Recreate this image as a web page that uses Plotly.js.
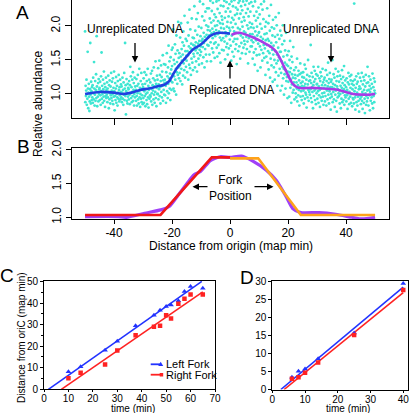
<!DOCTYPE html>
<html><head><meta charset="utf-8">
<script src="https://cdn.plot.ly/plotly-3.0.1.min.js"></script>
<style>html,body{margin:0;padding:0;background:#fff;}#chart{width:410px;height:413px;}</style>
</head><body><div id="chart"></div>
<script>
// ---------- Panel A: probe data (relative abundance x100), probes every 0.1 map min from -50 ----------
const probeStart = -50;
const probeStep = 0.1;
const abundanceX100 = [
192,88,112,97,105,121,84,100,93,162,108,79,102,115,96,75,89,107,175,99,86,118,104,91,110,
95,113,87,124,101,92,147,108,83,99,119,90,106,129,94,185,111,82,103,96,116,89,122,100,107,
109,91,118,98,84,126,104,161,93,112,100,87,121,107,96,133,90,115,102,81,110,97,124,94,106,
99,117,88,108,95,127,103,79,113,92,120,101,86,111,98,131,94,105,118,90,100,123,85,109,96,
133,104,76,97,116,91,108,125,87,100,112,95,83,119,102,93,128,106,89,110,98,121,92,103,114,
95,111,88,102,124,93,106,84,117,99,131,91,108,175,97,113,70,104,122,90,101,86,115,96,109,
107,92,119,99,85,113,140,101,126,94,110,88,103,121,97,132,90,106,116,83,100,124,95,111,104,
106,90,122,97,83,112,101,128,92,115,86,104,137,95,109,81,100,119,93,131,88,107,98,114,85,
110,94,123,87,104,132,97,115,82,107,100,128,91,119,85,102,137,95,112,80,106,121,93,109,98,
117,96,130,89,108,101,134,84,113,105,123,92,139,99,111,87,120,103,148,94,115,82,109,127,100,
121,100,138,92,114,107,149,97,128,110,86,119,142,103,125,95,133,112,157,90,120,106,144,99,116,
121,98,143,112,87,132,117,160,104,126,94,139,115,171,101,123,148,108,130,91,154,119,136,106,165,
141,117,168,129,195,108,150,126,104,144,173,121,159,137,99,186,132,147,115,164,128,206,139,153,123,
160,131,142,183,119,155,204,137,166,149,114,176,158,127,192,145,171,135,215,152,124,163,181,140,156,
149,178,132,163,205,157,121,186,170,143,224,161,138,195,167,128,174,152,211,165,146,183,135,172,159,
182,155,229,171,139,193,164,176,148,210,167,133,187,160,219,174,152,199,143,178,165,236,157,185,170,
162,197,178,145,214,181,169,232,154,190,175,208,139,184,166,221,179,158,201,187,148,226,172,194,183,
199,171,226,186,158,211,193,237,176,148,205,189,222,167,196,182,234,161,208,191,174,217,153,200,185,
176,213,194,236,168,201,155,225,188,207,172,238,192,160,219,183,204,146,230,197,179,214,165,209,190,
203,182,229,164,196,237,177,212,151,191,221,185,169,235,199,174,206,158,226,188,214,167,197,232,180,
193,221,171,205,149,236,186,212,162,198,229,177,209,155,192,238,181,216,166,203,227,173,190,144,218,
181,224,197,163,234,189,211,170,237,195,152,218,186,229,175,206,160,223,199,183,236,168,213,192,178,
208,173,231,190,159,219,184,237,166,201,177,225,145,196,214,182,233,162,205,188,221,170,198,235,179,
170,203,188,152,229,176,197,161,215,184,143,236,192,166,208,179,221,157,199,186,134,212,174,227,190,
191,158,217,170,203,139,184,232,165,196,177,149,224,181,160,210,172,236,153,188,167,199,128,179,206,
155,189,172,226,146,181,163,204,136,178,215,160,193,124,170,152,231,175,142,198,165,186,118,209,158,
171,139,196,150,121,184,163,213,132,176,145,201,158,112,187,149,168,127,219,154,181,137,162,193,105,
162,131,186,148,112,173,140,201,123,155,137,99,178,129,146,164,108,135,190,119,143,125,157,94,133,
141,118,163,127,96,150,132,178,109,138,121,87,155,114,129,147,102,124,169,106,117,135,92,112,128,
123,101,139,95,117,108,152,89,127,113,98,134,106,120,83,129,110,145,96,116,104,131,91,112,125,
118,97,132,105,86,124,111,143,93,115,102,137,99,121,80,109,128,95,114,150,106,90,119,103,126,
99,120,107,172,94,116,131,88,110,103,125,79,113,140,97,118,105,134,91,122,108,85,129,101,114,
115,93,127,104,140,87,111,98,123,106,81,119,132,95,108,126,90,113,101,137,96,117,84,109,121,
102,124,89,113,97,135,108,83,119,105,128,92,111,146,99,116,86,122,104,131,94,110,77,118,100,
121,96,110,150,88,115,103,129,92,108,124,81,113,99,137,105,90,119,74,111,126,95,107,133,101,
97,118,105,86,127,100,112,79,122,93,109,135,88,116,102,125,91,107,141,84,113,98,120,95,104,
110,89,123,98,106,78,117,101,131,93,114,85,103,126,96,109,120,87,128,100,115,82,107,94,119,
92,113,86,233,104,121,95,77,109,99,126,88,115,102,83,118,96,130,90,107,74,111,98,124,93,
108,85,119,96,131,90,103,78,114,99,125,87,106,120,93,72,111,101,128,84,97,116,89,105,140,
94,117,83,106,126,98,112,76,103,121,90,108,193,95,115,86,130,100,79,110,97,123,88,105,118,
101
];

// smoothed profile, left (blue) and right (magenta) halves
const leftSmoothX = [-50,-45,-40,-37,-34,-31,-28,-25.3,-22.5,-21,-19.5,-18,-16,-14,-12.6,-10.3,-8.5,-7,-5,-3.4,-1.5,0];
const leftSmoothY = [1.00,1.03,1.02,1.00,1.02,1.06,1.08,1.11,1.14,1.19,1.30,1.40,1.50,1.60,1.66,1.72,1.79,1.85,1.89,1.90,1.895,1.89];
const rightSmoothX = [0.5,2,3.4,5,8,10.5,12.6,14.5,16.1,17.5,19.5,21,21.8,23,24.7,28,31,34,36.8,39,42.5,46,48,50];
const rightSmoothY = [1.87,1.895,1.90,1.88,1.83,1.78,1.73,1.68,1.61,1.50,1.32,1.19,1.14,1.10,1.085,1.09,1.085,1.075,1.065,1.04,1.00,0.99,0.99,1.00];

// ---------- Panel B ----------
const profileX = [-50,-38.6,-35.8,-29.5,-23.9,-21,-18.2,-14,-12.5,-10.2,-6.8,-3.4,0,4,8,12.5,15.9,19.3,21.6,24.4,30.7,36.4,42,45.5,50];
const profileY = [1.01,1.01,1.00,1.06,1.11,1.16,1.31,1.55,1.63,1.68,1.84,1.90,1.89,1.91,1.83,1.70,1.55,1.31,1.13,1.07,1.07,1.045,1.00,0.975,1.00];
const leftForkModelX = [-50,-24,-6.3,0];
const leftForkModelY = [1.035,1.035,1.89,1.89];
const rightForkModelX = [0,9.7,24.4,50];
const rightForkModelY = [1.876,1.876,1.035,1.035];

// ---------- Panel C ----------
const timeC = [10,15,25,30,37.5,45,47.5,50,52,55,57.5,60,65];
const leftForkC = [8.1,10.4,18.1,22.3,29.5,34.3,36.6,38.4,39.1,41,45.3,47.6,46.8];
const rightForkC = [5.1,7.7,11.5,18,25,29,29.5,34.3,32.8,39.7,42,44,44];
const leftFitC_t = [1.8,64.6];
const leftFitC_d = [0,50];
const rightFitC_t = [7.1,65];
const rightFitC_d = [0,45.2];

// ---------- Panel D ----------
const timeD = [6,8,10,14,25,40];
const leftForkD = [3.4,5.05,5.7,8.5,15.6,29.3];
const rightForkD = [3.0,3.4,4.6,7.5,15.1,27.5];
const leftFitD_t = [2.6,40];
const leftFitD_d = [0,28.3];
const rightFitD_t = [3.6,40];
const rightFitD_d = [0,26.8];

// ---------- build ----------
const W = 410, H = 413;
const px = v => v / W;
const py = v => 1 - v / H;
const FONT = 'Liberation Sans, Arial, Helvetica, sans-serif';
const BLUE = '#2233ff', RED = '#ff2222';

const probeX = abundanceX100.map((v, i) => probeStart + i * probeStep);
const probeY = abundanceX100.map(v => v / 100);

const traces = [
  {x: probeX, y: probeY, xaxis: 'x', yaxis: 'y', mode: 'markers', type: 'scatter',
   marker: {size: 2.8, color: '#3ee6d2', line: {width: 0}}},
  {x: leftSmoothX, y: leftSmoothY, xaxis: 'x', yaxis: 'y', mode: 'lines', type: 'scatter',
   line: {color: '#2040e0', width: 2.6, shape: 'spline', smoothing: 0.6}},
  {x: rightSmoothX, y: rightSmoothY, xaxis: 'x', yaxis: 'y', mode: 'lines', type: 'scatter',
   line: {color: '#a83ae6', width: 2.6, shape: 'spline', smoothing: 0.6}},

  {x: profileX, y: profileY, xaxis: 'x2', yaxis: 'y2', mode: 'lines', type: 'scatter',
   line: {color: '#a040f8', width: 3.2, shape: 'spline', smoothing: 0.6}},
  {x: leftForkModelX, y: leftForkModelY, xaxis: 'x2', yaxis: 'y2', mode: 'lines', type: 'scatter',
   line: {color: '#f01818', width: 2.6}},
  {x: rightForkModelX, y: rightForkModelY, xaxis: 'x2', yaxis: 'y2', mode: 'lines', type: 'scatter',
   line: {color: '#ffa31a', width: 2.6}},

  {x: leftFitC_t, y: leftFitC_d, xaxis: 'x3', yaxis: 'y3', mode: 'lines', type: 'scatter',
   line: {color: BLUE, width: 1.6}},
  {x: rightFitC_t, y: rightFitC_d, xaxis: 'x3', yaxis: 'y3', mode: 'lines', type: 'scatter',
   line: {color: RED, width: 1.6}},
  {x: timeC, y: leftForkC, xaxis: 'x3', yaxis: 'y3', mode: 'markers', type: 'scatter',
   marker: {symbol: 'triangle-up', size: 5, color: BLUE, line: {width: 0}}},
  {x: timeC, y: rightForkC, xaxis: 'x3', yaxis: 'y3', mode: 'markers', type: 'scatter',
   marker: {symbol: 'square', size: 4.5, color: RED, line: {width: 0}}},

  {x: leftFitD_t, y: leftFitD_d, xaxis: 'x4', yaxis: 'y4', mode: 'lines', type: 'scatter',
   line: {color: BLUE, width: 1.6}},
  {x: rightFitD_t, y: rightFitD_d, xaxis: 'x4', yaxis: 'y4', mode: 'lines', type: 'scatter',
   line: {color: RED, width: 1.6}},
  {x: timeD, y: leftForkD, xaxis: 'x4', yaxis: 'y4', mode: 'markers', type: 'scatter',
   marker: {symbol: 'triangle-up', size: 5, color: BLUE, line: {width: 0}}},
  {x: timeD, y: rightForkD, xaxis: 'x4', yaxis: 'y4', mode: 'markers', type: 'scatter',
   marker: {symbol: 'square', size: 4.5, color: RED, line: {width: 0}}}
];

const baseAxis = {showgrid: false, zeroline: false, showline: true, linecolor: '#000', linewidth: 1,
  ticks: 'outside', tickcolor: '#000', tickwidth: 1, fixedrange: true};
const bigTick = {family: FONT, size: 12, color: '#000'};
const smallTick = {family: FONT, size: 10, color: '#000'};
const mapTicks = [-40, -20, 0, 20, 40];
const mapTickText = ['-40', '-20', '0', '20', '40'];
const abTicks = [1, 1.5, 2];
const abTickText = ['1.0', '1.5', '2.0'];

const layout = {
  width: W, height: H, margin: {l: 0, r: 0, t: 0, b: 0, pad: 0},
  paper_bgcolor: '#fff', plot_bgcolor: '#fff', showlegend: false,
  font: {family: FONT, color: '#000'},
  xaxis: Object.assign({}, baseAxis, {domain: [px(72), px(389)], anchor: 'y', range: [-54.5, 54.8],
    tickvals: mapTicks, showticklabels: false, ticklen: 6, mirror: false}),
  yaxis: Object.assign({}, baseAxis, {domain: [py(118), 1], anchor: 'x', range: [0.647, 2.382],
    tickvals: abTicks, ticktext: abTickText, tickangle: -90, ticklen: 6, tickfont: bigTick, mirror: true}),
  xaxis2: Object.assign({}, baseAxis, {domain: [px(72), px(389)], anchor: 'y2', range: [-54.5, 54.8],
    tickvals: mapTicks, ticktext: mapTickText, ticklen: 4, ticklabelstandoff: -2, tickfont: bigTick, mirror: true}),
  yaxis2: Object.assign({}, baseAxis, {domain: [py(219.3), py(147.7)], anchor: 'x2', range: [0.97, 2.034],
    tickvals: abTicks, ticktext: abTickText, tickangle: -90, ticklen: 5, tickfont: bigTick, mirror: true}),
  xaxis3: Object.assign({}, baseAxis, {domain: [px(44), px(215)], anchor: 'y3', range: [0, 70],
    dtick: 10, tick0: 0, ticklen: 2, ticklabelstandoff: -2, tickfont: smallTick, mirror: true}),
  yaxis3: Object.assign({}, baseAxis, {domain: [py(389.3), py(281)], anchor: 'x3', range: [0, 50.2],
    dtick: 10, tick0: 0, ticklen: 3, tickfont: smallTick, mirror: true,
    minor: {dtick: 5, ticks: 'outside', ticklen: 2, tickcolor: '#000'}}),
  xaxis4: Object.assign({}, baseAxis, {domain: [px(272.3), px(407.5)], anchor: 'y4', range: [0, 41.3],
    dtick: 10, tick0: 0, ticklen: 2, ticklabelstandoff: -2, tickfont: smallTick, mirror: true}),
  yaxis4: Object.assign({}, baseAxis, {domain: [py(389.5), py(280.7)], anchor: 'x4', range: [0, 30.1],
    dtick: 5, tick0: 0, ticklen: 3, tickfont: smallTick, mirror: true}),
  shapes: [
    {type: 'line', xref: 'paper', yref: 'paper', x0: px(150.7), x1: px(160.7), y0: py(364.3), y1: py(364.3),
     line: {color: BLUE, width: 1.8}},
    {type: 'path', xref: 'paper', yref: 'paper',
     path: 'M ' + px(160.7) + ' ' + py(361.7) + ' L ' + px(163.2) + ' ' + py(366) + ' L ' + px(158.2) + ' ' + py(366) + ' Z',
     fillcolor: BLUE, line: {width: 0}},
    {type: 'line', xref: 'paper', yref: 'paper', x0: px(150.7), x1: px(160.7), y0: py(374.7), y1: py(374.7),
     line: {color: RED, width: 1.8}},
    {type: 'rect', xref: 'paper', yref: 'paper', x0: px(159.7), x1: px(163.2), y0: py(376.5), y1: py(373),
     fillcolor: RED, line: {width: 0}}
  ],
  annotations: []
};

function txt(t, x, y, size, opts) {
  layout.annotations.push(Object.assign({text: t, x: px(x), y: py(y), xref: 'paper', yref: 'paper',
    showarrow: false, xanchor: 'center', yanchor: 'middle', font: {family: FONT, size: size, color: '#000'}}, opts || {}));
}
function arrow(tipX, tipY, tailX, tailY) {
  layout.annotations.push({text: '', x: px(tipX), y: py(tipY), xref: 'paper', yref: 'paper',
    ax: tailX - tipX, ay: tailY - tipY, showarrow: true, arrowhead: 2, arrowsize: 1, arrowwidth: 1.3,
    arrowcolor: '#000', standoff: 0, startstandoff: 0});
}

// panel letters
txt('A', 22.5, 12.5, 19);
txt('B', 23, 147, 19);
txt('C', 6.5, 275, 19);
txt('D', 247, 277, 19);

// axis titles
txt('Relative abundance', 38, 104, 12, {textangle: -90});
txt('Distance from origin (map min)', 230.5, 246, 12);
txt('Distance from oriC (map min)', 21, 338, 10, {textangle: -90});
txt('time (min)', 133, 408.5, 10);
txt('time (min)', 348, 408.5, 10);

// panel A labels + arrows
txt('Unreplicated DNA', 135, 29.5, 12);
txt('Unreplicated DNA', 331, 29.5, 12);
txt('Replicated DNA', 232, 90, 12);
arrow(135, 62.5, 135, 41.5);
arrow(331, 62.5, 331, 41.5);
arrow(230, 60.5, 230, 80);

// panel B label + arrows
txt('Fork<br>Position', 230, 188, 12);
arrow(192.5, 186.7, 209, 186.7);
arrow(273.5, 186.7, 253, 186.7);

// panel C legend text
txt('Left Fork', 163.5, 364.3, 11, {xanchor: 'left'});
txt('Right Fork', 164, 374.7, 11, {xanchor: 'left'});

Plotly.newPlot('chart', traces, layout, {staticPlot: true, displayModeBar: false});
</script>
</body></html>
